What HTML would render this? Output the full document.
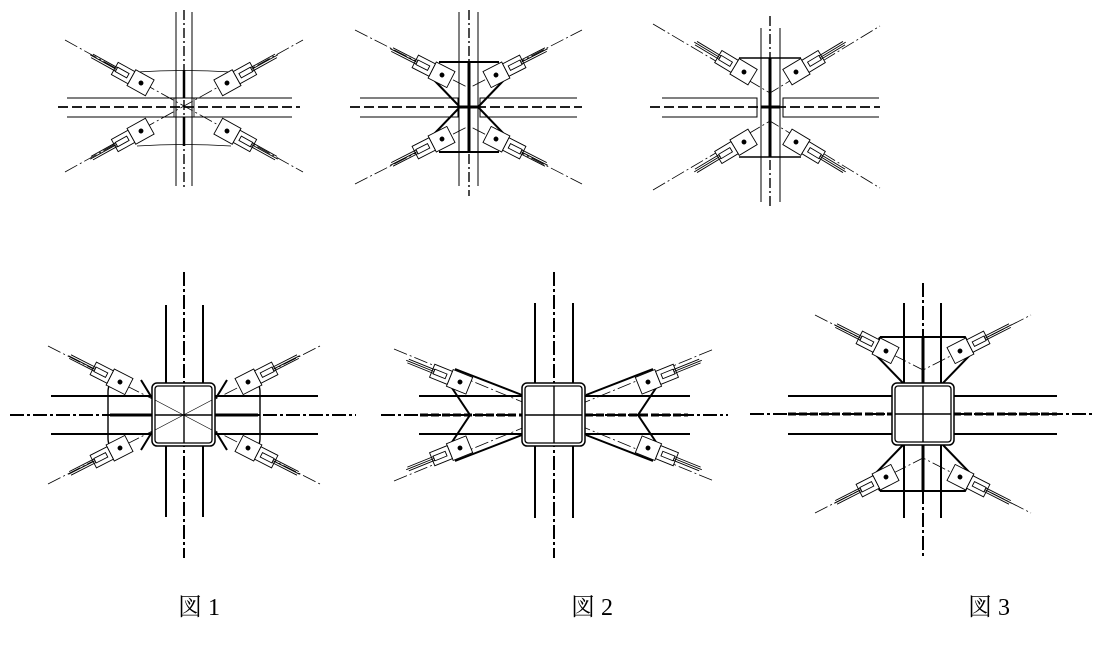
<!DOCTYPE html>
<html><head><meta charset="utf-8"><style>
html,body{margin:0;padding:0;background:#fff;}
svg{display:block;}
text{font-family:"Liberation Serif","Noto Serif CJK SC",serif;font-size:24px;fill:#000;}
</style></head><body>
<svg width="1108" height="646" viewBox="0 0 1108 646" xmlns="http://www.w3.org/2000/svg">
<defs>
<g id="b" fill="none" stroke="#000" stroke-width="0.9">
<rect x="-10" y="-9" width="21" height="18" fill="#fff"/>
<rect x="11" y="-7" width="19" height="14" fill="#fff"/>
<rect x="15" y="-2.5" width="13" height="5"/>
<line x1="28" y1="-2" x2="56" y2="-2"/><line x1="28" y1="0" x2="58" y2="0"/><line x1="28" y1="2" x2="56" y2="2"/>
<circle cx="0" cy="0" r="2" fill="#000"/>
</g>
</defs>
<g fill="none" stroke="#000">
<!-- TOP FIG 1 -->
<g stroke-width="0.8" stroke-dasharray="14 3 2 3">
<line x1="65" y1="40" x2="303" y2="172"/><line x1="65" y1="172" x2="303" y2="40"/>
</g>
<line x1="176" y1="12" x2="176" y2="186" stroke-width="1"/>
<line x1="192" y1="12" x2="192" y2="186" stroke-width="1"/>
<line x1="184" y1="10" x2="184" y2="188" stroke-width="1.4" stroke-dasharray="10 3 2 3"/>
<line x1="184" y1="70" x2="184" y2="98" stroke-width="2.5"/><line x1="184" y1="117" x2="184" y2="146" stroke-width="2.5"/>
<line x1="67" y1="98" x2="292" y2="98" stroke-width="1"/>
<line x1="67" y1="117" x2="292" y2="117" stroke-width="1"/>
<line x1="58" y1="107" x2="300" y2="107" stroke-width="1.8" stroke-dasharray="10 4"/>
<path d="M137 72 Q184 69 231 72 M137 146 Q184 143 231 146" stroke-width="0.8"/>
<rect x="174" y="98" width="20" height="19" stroke-width="0.8"/>
<use href="#b" transform="translate(141,83) rotate(209)"/>
<use href="#b" transform="translate(227,83) rotate(-29)"/>
<use href="#b" transform="translate(141,131) rotate(151)"/>
<use href="#b" transform="translate(227,131) rotate(29)"/>

<!-- TOP FIG 2 -->
<g stroke-width="0.8" stroke-dasharray="14 3 2 3">
<path d="M355 30 L469 88 L582 30 M355 184 L469 126 L582 184"/>
</g>
<line x1="459" y1="12" x2="459" y2="186" stroke-width="1"/>
<line x1="478" y1="12" x2="478" y2="186" stroke-width="1"/>
<line x1="469" y1="10" x2="469" y2="196" stroke-width="1.4" stroke-dasharray="10 3 2 3"/>
<line x1="469" y1="62" x2="469" y2="152" stroke-width="3"/>
<line x1="459" y1="107" x2="479" y2="107" stroke-width="3"/>
<path d="M360 98 H458 V117 H360 M577 98 H480 V117 H577" stroke-width="1"/>
<line x1="350" y1="107" x2="582" y2="107" stroke-width="1.8" stroke-dasharray="10 4"/>
<path d="M439 62 H499 M439 152 H499 M434 80 L459 106 M504 80 L479 106 M434 134 L459 108 M504 134 L479 108" stroke-width="2"/>
<use href="#b" transform="translate(442,75) rotate(207)"/>
<use href="#b" transform="translate(496,75) rotate(-27)"/>
<use href="#b" transform="translate(442,139) rotate(153)"/>
<use href="#b" transform="translate(496,139) rotate(27)"/>

<!-- TOP FIG 3 -->
<g stroke-width="0.8" stroke-dasharray="14 3 2 3">
<path d="M653 24 L770 93 L880 26 M653 190 L770 121 L880 188"/>
</g>
<line x1="761" y1="28" x2="761" y2="202" stroke-width="1"/>
<line x1="780" y1="28" x2="780" y2="202" stroke-width="1"/>
<line x1="770" y1="16" x2="770" y2="206" stroke-width="1.4" stroke-dasharray="10 3 2 3"/>
<line x1="770" y1="58" x2="770" y2="157" stroke-width="3"/>
<line x1="761" y1="107" x2="780" y2="107" stroke-width="3"/>
<path d="M662 98 H757 V117 H662 M879 98 H783 V117 H879" stroke-width="1"/>
<line x1="650" y1="107" x2="880" y2="107" stroke-width="1.8" stroke-dasharray="10 4"/>
<path d="M739 58 H801 M739 157 H801" stroke-width="1.6"/>
<use href="#b" transform="translate(744,72) rotate(211)"/>
<use href="#b" transform="translate(796,72) rotate(-31)"/>
<use href="#b" transform="translate(744,142) rotate(149)"/>
<use href="#b" transform="translate(796,142) rotate(31)"/>

<!-- BOTTOM FIG 1 -->
<g stroke-width="0.8" stroke-dasharray="14 3 2 3">
<line x1="48" y1="346" x2="320" y2="484"/><line x1="48" y1="484" x2="320" y2="346"/>
</g>
<line x1="166" y1="305" x2="166" y2="517" stroke-width="2"/>
<line x1="203" y1="305" x2="203" y2="517" stroke-width="2"/>
<line x1="184" y1="272" x2="184" y2="558" stroke-width="2" stroke-dasharray="14 3 3 3"/>
<line x1="51" y1="396" x2="318" y2="396" stroke-width="2"/>
<line x1="51" y1="434" x2="318" y2="434" stroke-width="2"/>
<line x1="10" y1="415" x2="356" y2="415" stroke-width="2" stroke-dasharray="14 3 3 3"/>
<line x1="110" y1="415" x2="258" y2="415" stroke-width="3"/>
<path d="M113 382 Q108 384 108 392 V438 Q108 446 113 448 M255 382 Q260 384 260 392 V438 Q260 446 255 448" stroke-width="1.4"/>
<path d="M141 380 L152 398 M227 380 L216 398 M141 450 L152 432 M227 450 L216 432" stroke-width="2"/>
<rect x="152" y="383" width="63" height="63" rx="5" fill="#fff" stroke-width="1.5"/>
<rect x="155" y="386" width="57" height="57" rx="3" stroke-width="1.3"/>
<line x1="184" y1="386" x2="184" y2="443" stroke-width="1.4"/>
<line x1="155" y1="415" x2="212" y2="415" stroke-width="1.4"/>
<path d="M155 400 L212 430 M155 430 L212 400" stroke-width="0.7"/>
<use href="#b" transform="translate(120,382) rotate(207)"/>
<use href="#b" transform="translate(248,382) rotate(-27)"/>
<use href="#b" transform="translate(120,448) rotate(153)"/>
<use href="#b" transform="translate(248,448) rotate(27)"/>

<!-- BOTTOM FIG 2 -->
<g stroke-width="0.8" stroke-dasharray="14 3 2 3">
<line x1="394" y1="349" x2="714" y2="481"/><line x1="394" y1="481" x2="714" y2="349"/>
</g>
<line x1="535" y1="303" x2="535" y2="518" stroke-width="2"/>
<line x1="573" y1="303" x2="573" y2="518" stroke-width="2"/>
<line x1="554" y1="272" x2="554" y2="558" stroke-width="2" stroke-dasharray="14 3 3 3"/>
<line x1="419" y1="396" x2="690" y2="396" stroke-width="2"/>
<line x1="419" y1="434" x2="690" y2="434" stroke-width="2"/>
<line x1="381" y1="415" x2="728" y2="415" stroke-width="2" stroke-dasharray="14 3 3 3"/>
<line x1="420" y1="415" x2="688" y2="415" stroke-width="3" stroke-dasharray="8 3"/>
<path d="M455 369 L522 395 M455 461 L522 435 M448 382 L470 415 L448 448 M653 369 L586 395 M653 461 L586 435 M660 382 L638 415 L660 448" stroke-width="2"/>
<rect x="522" y="383" width="63" height="63" rx="5" fill="#fff" stroke-width="1.5"/>
<rect x="525" y="386" width="57" height="57" rx="3" stroke-width="1.3"/>
<line x1="554" y1="386" x2="554" y2="443" stroke-width="1.4"/>
<line x1="525" y1="415" x2="582" y2="415" stroke-width="1.4"/>
<use href="#b" transform="translate(460,382) rotate(202)"/>
<use href="#b" transform="translate(648,382) rotate(-22)"/>
<use href="#b" transform="translate(460,448) rotate(158)"/>
<use href="#b" transform="translate(648,448) rotate(22)"/>

<!-- BOTTOM FIG 3 -->
<g stroke-width="0.8" stroke-dasharray="14 3 2 3">
<path d="M815 315 L923 370 L1031 315 M815 513 L923 458 L1031 513"/>
</g>
<line x1="904" y1="303" x2="904" y2="518" stroke-width="2"/>
<line x1="941" y1="303" x2="941" y2="518" stroke-width="2"/>
<line x1="923" y1="283" x2="923" y2="558" stroke-width="2" stroke-dasharray="14 3 3 3"/>
<line x1="923" y1="337" x2="923" y2="491" stroke-width="3"/>
<line x1="788" y1="396" x2="1057" y2="396" stroke-width="2"/>
<line x1="788" y1="434" x2="1057" y2="434" stroke-width="2"/>
<line x1="750" y1="414" x2="1092" y2="414" stroke-width="2" stroke-dasharray="14 3 3 3"/>
<line x1="788" y1="414" x2="1057" y2="414" stroke-width="3" stroke-dasharray="8 3"/>
<path d="M880 337 H965 L973 352 L943 383 M880 337 L873 352 L903 383 M880 491 H965 L973 476 L943 445 M880 491 L873 476 L903 445" stroke-width="2"/>
<rect x="892" y="383" width="62" height="62" rx="5" fill="#fff" stroke-width="1.5"/>
<rect x="895" y="386" width="56" height="56" rx="3" stroke-width="1.3"/>
<line x1="923" y1="386" x2="923" y2="442" stroke-width="1.4"/>
<line x1="895" y1="414" x2="951" y2="414" stroke-width="1.4"/>
<use href="#b" transform="translate(886,351) rotate(207)"/>
<use href="#b" transform="translate(960,351) rotate(-27)"/>
<use href="#b" transform="translate(886,477) rotate(153)"/>
<use href="#b" transform="translate(960,477) rotate(27)"/>
</g>
<text x="178" y="615">図 1</text>
<text x="571" y="615">図 2</text>
<text x="968" y="615">図 3</text>
</svg>
</body></html>
